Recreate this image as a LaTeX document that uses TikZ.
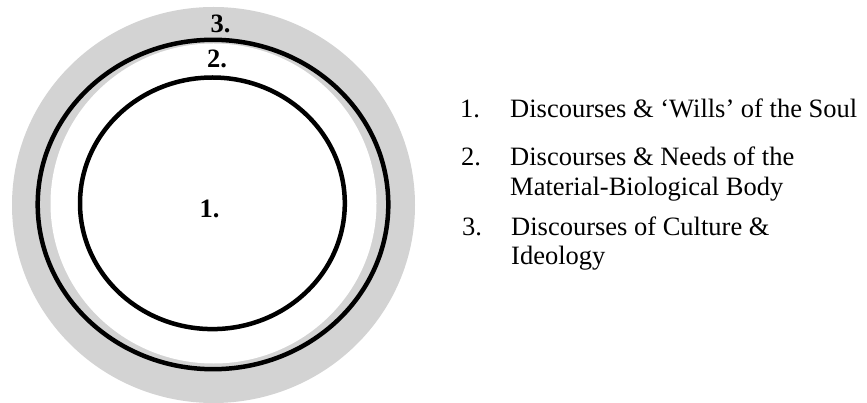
\documentclass[tikz,border=0pt]{standalone}
\usepackage{fontspec}
\setmainfont{Liberation Serif}
\definecolor{ringgray}{RGB}{211,211,211}
\tikzset{
	ring/.style = {draw=black, line width=4.5pt},
	ringlabel/.style = {inner sep=0pt, anchor=base, font=\fontsize{26.5}{30}\selectfont\bfseries},
	itemnum/.style = {inner sep=0pt, anchor=base west, font=\fontsize{26.5}{30}\selectfont},
	itemtext/.style = {itemnum}
}

\begin{document}
\begin{tikzpicture}[x=1pt, y=-1pt]
		\useasboundingbox (0,0) rectangle (867,403);
		\fill[ringgray] (213.5,205) ellipse [x radius=201.5pt, y radius=198pt];
		\fill[white] (213.5,203.5) ellipse [x radius=163pt, y radius=160pt];
		\draw[ring] (213,204.5) ellipse [x radius=175.3pt, y radius=164.7pt];
		\draw[ring] (212.4,203.3) ellipse [x radius=132.4pt, y radius=125.8pt];
		\node [ringlabel] (lab3) at (220.5,33) {3.};
		\node [ringlabel] (lab2) at (217,68) {2.};
		\node [ringlabel] (lab1) at (209.5,218) {1.};
		\node [itemnum] (num1) at (460,117.7) {1.};
		\node [itemtext] (item1) at (510,117.7) {Discourses \& ‘Wills’ of the Soul};
		\node [itemnum] (num2) at (461,166) {2.};
		\node [itemtext] (item2) at (510,166) {Discourses \& Needs of the};
		\node [itemtext] (item2b) at (510,196) {Material-Biological Body};
		\node [itemnum] (num3) at (462,236) {3.};
		\node [itemtext] (item3) at (511,236) {Discourses of Culture \&};
		\node [itemtext] (item3b) at (511,265) {Ideology};
\end{tikzpicture}
\end{document}
